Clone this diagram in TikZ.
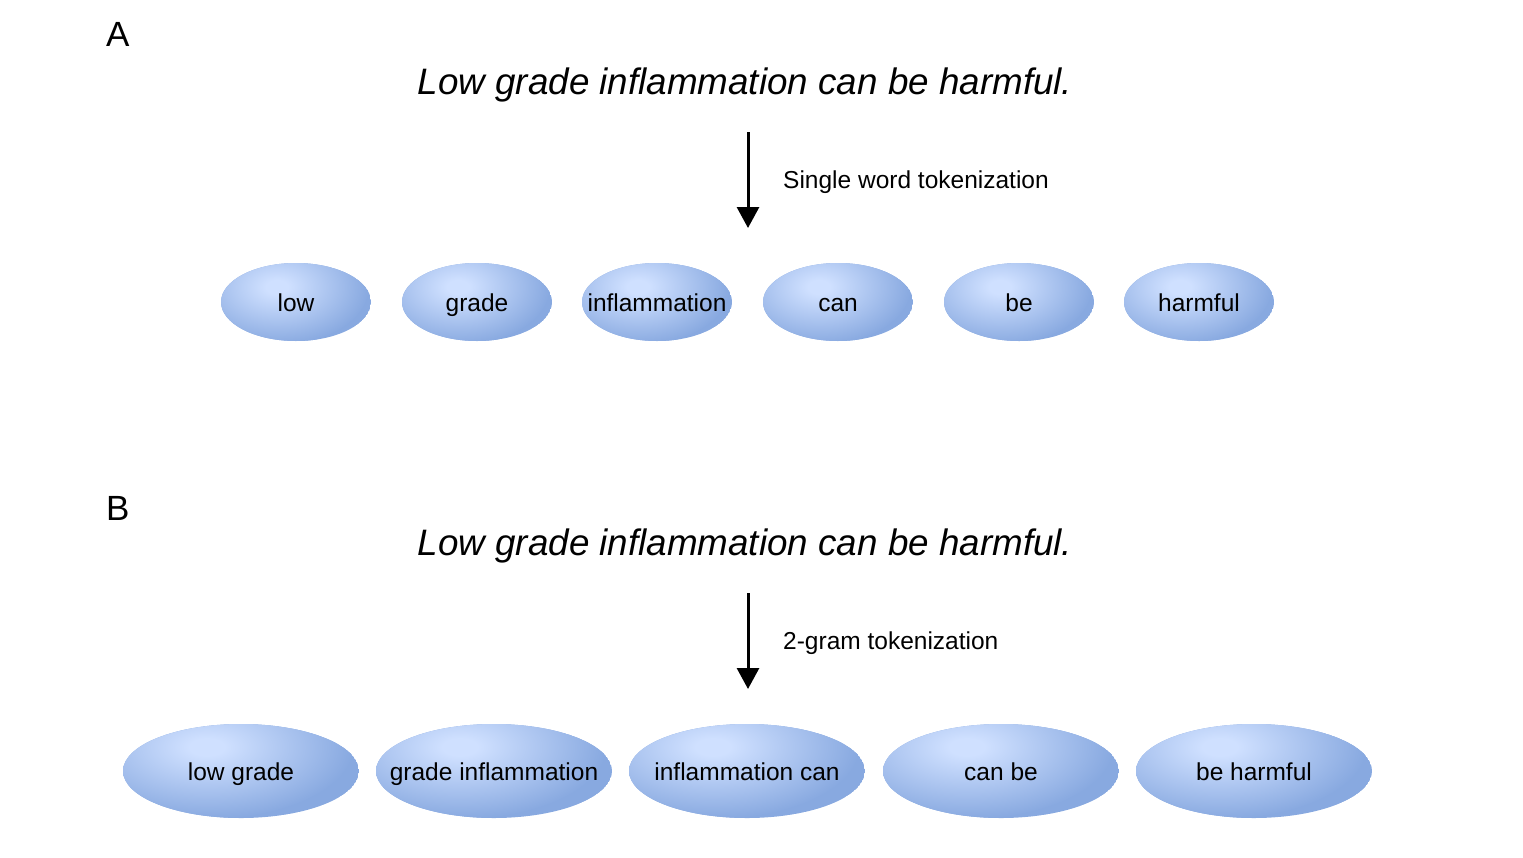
\documentclass[tikz,border=0pt]{standalone}
\usepackage{fontspec}
\setmainfont{Liberation Sans}
\usetikzlibrary{arrows.meta}
\definecolor{tokL}{HTML}{CFE0FF}
\definecolor{tokD}{HTML}{88A9E0}
\pgfdeclareradialshading{glow}{\pgfpoint{0bp}{0bp}}{color(0bp)=(tokL); color(3bp)=(tokL); color(25bp)=(tokD); color(50bp)=(tokD)}
\tikzset{
  panel/.style={anchor=base west, inner sep=0pt, font=\fontsize{35}{40}\selectfont},
  title/.style={anchor=base, inner sep=0pt, font=\fontsize{36.8}{42}\selectfont\itshape},
  method/.style={anchor=base west, inner sep=0pt, font=\fontsize{24.5}{28}\selectfont},
  tokbg/.style={fill=tokD},
  tokglow/.style={shading=glow},
  toklbl/.style={inner sep=0pt, text height=23pt, text depth=5pt, font=\fontsize{24.5}{28}\selectfont},
  flow/.style={line width=3pt, -{Triangle[width=22pt,length=21pt]}}
}
\begin{document}
\begin{tikzpicture}[x=1pt,y=-1pt]
\useasboundingbox (0,0) rectangle (1523,857);
% Panel A
\node[panel] (pa) at (106,46) {A};
\node[title] (ta) at (745,94) {Low grade inflammation can be harmful.};
\coordinate (a1) at (748,132);
\coordinate (a2) at (748,228);
\draw[flow] (a1) -- (a2);
\node[method] (ma) at (783,188) {Single word tokenization};
\foreach \x/\t/\n in {296/low/A1,477/grade/A2,657/inflammation/A3,838/can/A4,1019/be/A5,1199/harmful/A6}{
  \begin{scope}
    \clip (\x,302) ellipse (75 and 39);
    \fill[tokbg] (\x,302) ellipse (75 and 39);
    \path[tokglow] (\x-19,287) ellipse (92 and 58);
  \end{scope}
  \node[toklbl] (\n) at (\x,302) {\t};
}
% Panel B
\node[panel] (pb) at (106,520) {B};
\node[title] (tb) at (745,555) {Low grade inflammation can be harmful.};
\coordinate (b1) at (748,593);
\coordinate (b2) at (748,689);
\draw[flow] (b1) -- (b2);
\node[method] (mb) at (783,649) {2-gram tokenization};
\foreach \x/\t/\n in {241/low grade/B1,494/grade inflammation/B2,747/inflammation can/B3,1001/can be/B4,1254/be harmful/B5}{
  \begin{scope}
    \clip (\x,771) ellipse (118 and 47);
    \fill[tokbg] (\x,771) ellipse (118 and 47);
    \path[tokglow] (\x-34,747) ellipse (146 and 72);
  \end{scope}
  \node[toklbl] (\n) at (\x,771) {\t};
}
\end{tikzpicture}
\end{document}
